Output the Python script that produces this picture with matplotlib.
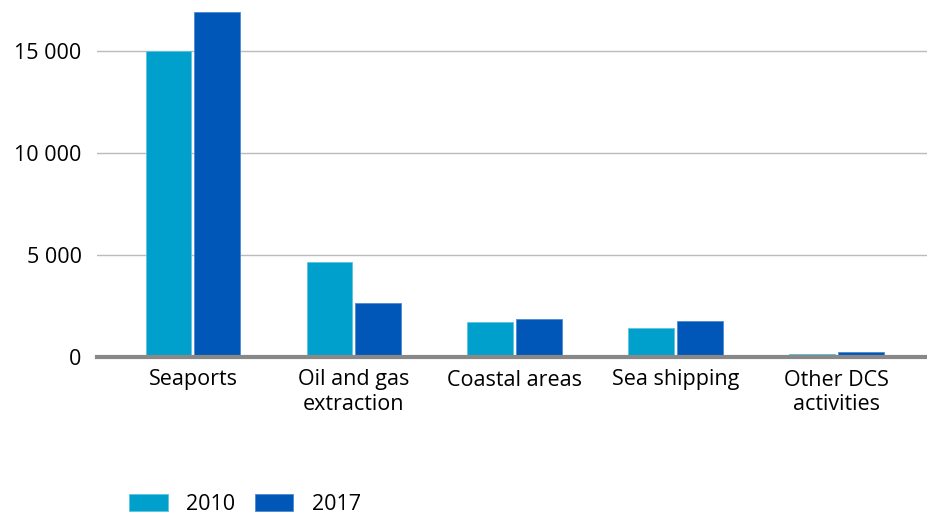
import numpy as np
from matplotlib import pyplot as plt
from matplotlib.ticker import FuncFormatter

categories = ['Seaports', 'Oil and gas\nextraction', 'Coastal areas', 'Sea shipping', 'Other DCS\nactivities']
values_2010 = [15000, 4650, 1740, 1420, 130]
values_2017 = [16900, 2650, 1870, 1760, 230]

plt.rcParams['font.family'] = ['Open Sans', 'DejaVu Sans']

fig = plt.figure(figsize=(9.27, 5.17), dpi=100)
ax = fig.add_axes([97/927, 1 - 357/517, 830/927, 357/517])

x = np.arange(len(categories))
w = 0.285
ax.bar(x - 0.152, values_2010, w, color='#00a0cc', edgecolor='#5ec4e0', linewidth=0.6, label='2010', zorder=3)
ax.bar(x + 0.152, values_2017, w, color='#0057b8', edgecolor='#4f8ad0', linewidth=0.6, label='2017', zorder=3)

ax.set_xlim(-0.596, 4.56)
ax.set_ylim(0, 17500)
ax.set_yticks([0, 5000, 10000, 15000])
ax.yaxis.set_major_formatter(FuncFormatter(lambda v, p: f'{int(v):,}'.replace(',', ' ')))
ax.grid(axis='y', color='#bbbbbb', linewidth=1, zorder=0)
ax.axhline(0, color='#888888', linewidth=3, zorder=4, clip_on=False)
for s in ax.spines.values():
    s.set_visible(False)
ax.tick_params(axis='y', length=0, pad=11, labelsize=15.5)
ax.tick_params(axis='x', length=0, pad=9, labelsize=15.5)
ax.set_xticks(x)
ax.set_xticklabels(categories, linespacing=1.25)

fig.legend(loc='lower left', bbox_to_anchor=(129/927, 2/517), ncol=2, frameon=False,
           fontsize=15.5, handlelength=1.8, handleheight=0.8, columnspacing=0.9,
           handletextpad=0.85, borderpad=0, borderaxespad=0)

plt.savefig('out.png', dpi=100)
